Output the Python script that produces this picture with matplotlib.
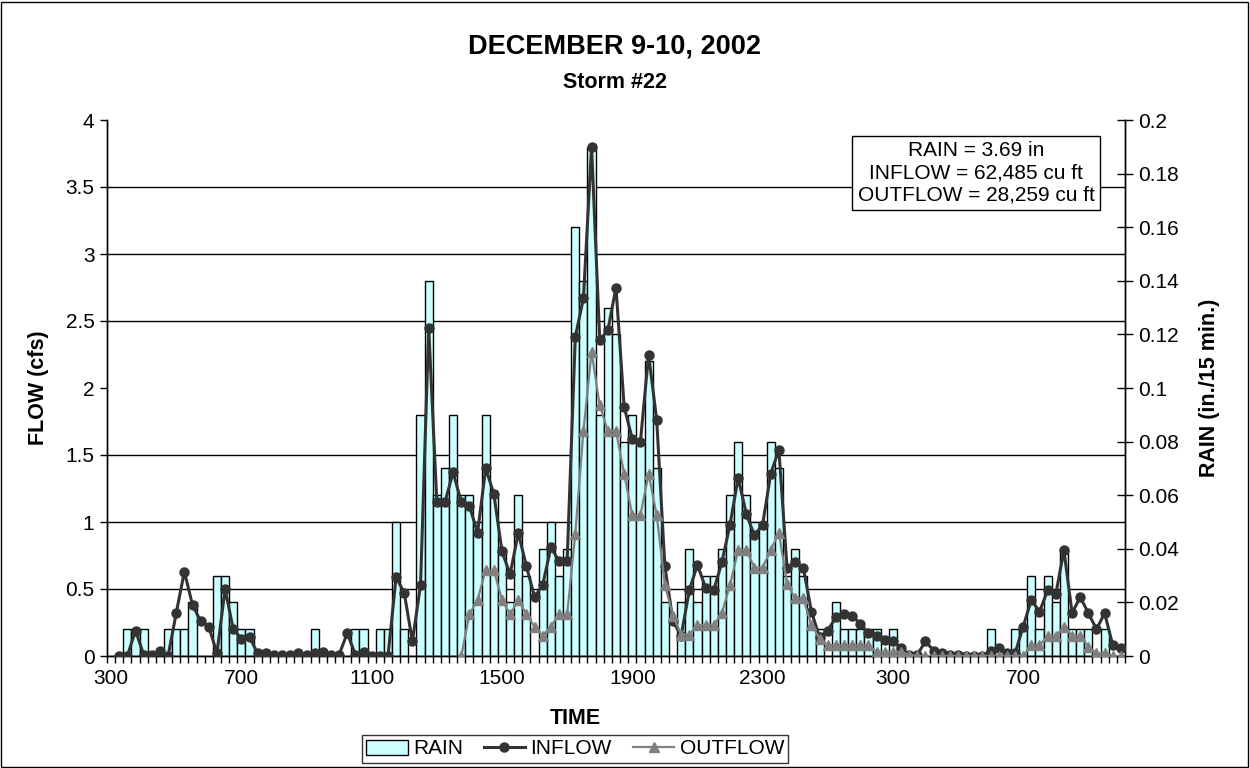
import numpy as np
import matplotlib
matplotlib.use("Agg")
import matplotlib.pyplot as plt
from matplotlib.ticker import MultipleLocator, FixedLocator, FuncFormatter
from matplotlib.patches import Rectangle
from matplotlib.lines import Line2D

plt.rcParams['font.family'] = ['Liberation Sans', 'DejaVu Sans']

nan = np.nan

# 15-minute categories, 3:00 Dec 9 through ~10:00 Dec 10
tick_labels = ["300", "700", "1100", "1500", "1900", "2300", "300", "700"]
tick_every = 16

rain = [0, 0, 0.01, 0.01, 0.01, 0, 0, 0.01, 0.01, 0.01,
        0.02, 0, 0, 0.03, 0.03, 0.02, 0.01, 0.01, 0, 0,
        0, 0, 0, 0, 0, 0.01, 0, 0, 0, 0,
        0.01, 0.01, 0, 0.01, 0.01, 0.05, 0.01, 0, 0.09, 0.14,
        0.06, 0.07, 0.09, 0.06, 0.06, 0.05, 0.09, 0.06, 0.04, 0.02,
        0.06, 0.03, 0, 0.04, 0.05, 0.03, 0.04, 0.16, 0.14, 0.19,
        0.09, 0.13, 0.12, 0.08, 0.09, 0.08, 0.11, 0.07, 0.02, 0,
        0.02, 0.04, 0.02, 0.03, 0.03, 0.04, 0.06, 0.08, 0.06, 0.05,
        0.05, 0.08, 0.07, 0.03, 0.04, 0.03, 0.01, 0.01, 0, 0.02,
        0.01, 0.01, 0.01, 0.01, 0.01, 0, 0.01, 0, 0, 0,
        0, 0, 0, 0, 0, 0, 0, 0, 0.01, 0,
        0, 0.01, 0.01, 0.03, 0.01, 0.03, 0.02, 0.04, 0.01, 0.01,
        0.01, 0, 0.01, 0, 0]

inflow = [nan, 0.0, 0.0, 0.19, 0.01, 0.01, 0.04, 0.0, 0.32, 0.63,
          0.38, 0.26, 0.22, 0.02, 0.50, 0.20, 0.13, 0.14, 0.02, 0.02,
          0.01, 0.01, 0.01, 0.02, 0.01, 0.02, 0.03, 0.01, 0.01, 0.17,
          0.01, 0.03, 0.0, 0.0, 0.0, 0.59, 0.47, 0.11, 0.53, 2.45,
          1.15, 1.15, 1.37, 1.15, 1.12, 0.92, 1.40, 1.21, 0.78, 0.61,
          0.92, 0.67, 0.44, 0.53, 0.81, 0.71, 0.71, 2.38, 2.67, 3.80,
          2.36, 2.43, 2.75, 1.86, 1.62, 1.60, 2.25, 1.76, 0.67, 0.26,
          0.15, 0.49, 0.68, 0.51, 0.49, 0.70, 0.98, 1.33, 1.06, 0.90,
          0.98, 1.36, 1.54, 0.66, 0.70, 0.66, 0.33, 0.14, 0.19, 0.29,
          0.31, 0.30, 0.24, 0.17, 0.15, 0.12, 0.11, 0.06, 0.01, 0.01,
          0.11, 0.04, 0.02, 0.01, 0.01, 0.0, 0.0, 0.0, 0.04, 0.06,
          0.02, 0.02, 0.22, 0.42, 0.33, 0.49, 0.46, 0.79, 0.32, 0.44,
          0.32, 0.20, 0.32, 0.08, 0.06]

outflow = [nan] * 43 + [
          0.0, 0.31, 0.42, 0.64, 0.64, 0.42, 0.31,
          0.42, 0.31, 0.22, 0.15, 0.22, 0.31, 0.31, 0.91, 1.68, 2.27,
          1.87, 1.68, 1.68, 1.36, 1.05, 1.05, 1.36, 1.05, 0.53, 0.30,
          0.16, 0.16, 0.23, 0.23, 0.23, 0.32, 0.53, 0.79, 0.79, 0.66,
          0.66, 0.79, 0.92, 0.54, 0.43, 0.43, 0.23, 0.13, 0.08, 0.08,
          0.08, 0.08, 0.08, 0.08, 0.03, 0.03, 0.03, 0.03, 0.01, 0.0,
          0.0, 0.0, 0.0, 0.0, 0.0, 0.0, 0.0, 0.0, 0.0, 0.0,
          0.0, 0.0, 0.0, 0.08, 0.08, 0.15, 0.15, 0.22, 0.15, 0.15,
          0.07, 0.02, 0.02, 0.0, 0.0]

summary = ["RAIN = 3.69 in", "INFLOW = 62,485 cu ft", "OUTFLOW = 28,259 cu ft"]

n = len(rain)
x = np.arange(n)

W, H = 1250, 768
fig = plt.figure(figsize=(W / 100, H / 100), dpi=100)
fig.patch.set_facecolor("white")

left, right, top, bottom = 107, 1125, 120, 656
ax = fig.add_axes([left / W, 1 - bottom / H, (right - left) / W, (bottom - top) / H])
ax2 = ax.twinx()

# rain bars on secondary axis (drawn underneath)
ax2.bar(x, rain, width=1.0, color="#CCFFFF", edgecolor="black", linewidth=1.0, zorder=2)
ax2.set_ylim(0, 0.2)
ax2.yaxis.set_major_locator(MultipleLocator(0.02))
ax2.yaxis.set_major_formatter(FuncFormatter(lambda v, p: "0" if abs(v) < 1e-9 else f"{v:.2f}".rstrip("0")))
ax2.yaxis.set_minor_locator(MultipleLocator(0.025))
ax2.grid(which="minor", axis="y", color="black", linewidth=1.0)
ax2.set_axisbelow(True)
ax2.tick_params(axis="y", which="major", direction="inout", length=11, width=1.0,
                labelsize=15, pad=4)
ax2.tick_params(axis="y", which="minor", length=0)
ax2.set_ylabel("RAIN (in./15 min.)", fontsize=15.5, fontweight="bold", labelpad=14)

# flow lines on primary axis (drawn on top)
ax.set_zorder(ax2.get_zorder() + 1)
ax.patch.set_visible(False)
ax.plot(x, inflow, color="#333333", linewidth=2.2, marker="o", markersize=6.5,
        markerfacecolor="#333333", markeredgecolor="#333333", zorder=3)
ax.plot(x, outflow, color="#808080", linewidth=1.6, marker="^", markersize=6.5,
        markerfacecolor="#808080", markeredgecolor="#808080", zorder=4)
ax.set_ylim(0, 4)
ax.yaxis.set_major_locator(MultipleLocator(0.5))
ax.yaxis.set_major_formatter(FuncFormatter(lambda v, p: f"{v:g}"))
ax.tick_params(axis="y", direction="out", length=5, width=1.0, labelsize=15, pad=4)
ax.set_ylabel("FLOW (cfs)", fontsize=15.5, fontweight="bold", labelpad=12)

ax.set_xlim(-0.5, n - 0.5)
ax.xaxis.set_major_locator(FixedLocator(np.arange(len(tick_labels)) * tick_every))
ax.set_xticklabels(tick_labels)
ax.xaxis.set_minor_locator(FixedLocator(np.arange(n + 1) - 0.5))
ax.tick_params(axis="x", which="major", length=0, labelsize=15, pad=9)
ax.tick_params(axis="x", which="minor", direction="out", length=5, width=1.0)

for a in (ax, ax2):
    a.spines["top"].set_visible(False)
    for s in ("left", "right", "bottom"):
        a.spines[s].set_linewidth(1.0)
        a.spines[s].set_color("black")

# x label placed like the original
fig.text(575 / W, 1 - 718 / H, "TIME", ha="center", va="center", fontsize=15.5, fontweight="bold")

# titles
fig.text(615 / W, 1 - 47 / H, "DECEMBER 9-10, 2002", ha="center", va="center",
         fontsize=19.5, fontweight="bold")
fig.text(615 / W, 1 - 82 / H, "Storm #22", ha="center", va="center",
         fontsize=15.5, fontweight="bold")

# summary box
ax.text(976 / W, 1 - 173 / H, "\n".join(summary), transform=fig.transFigure,
        ha="center", va="center", fontsize=15, linespacing=1.2,
        bbox=dict(boxstyle="square,pad=0.25", facecolor="white", edgecolor="black", linewidth=1.0),
        zorder=10)

# legend
handles = [Rectangle((0, 0), 1, 1, facecolor="#CCFFFF", edgecolor="black", linewidth=1.0),
           Line2D([], [], color="#333333", linewidth=2.2, marker="o", markersize=6.5),
           Line2D([], [], color="#808080", linewidth=1.6, marker="^", markersize=6.5)]
leg = fig.legend(handles, ["RAIN", "INFLOW", "OUTFLOW"], loc="center",
                 bbox_to_anchor=(575 / W, 1 - 749 / H), ncol=3, frameon=True,
                 fontsize=15, fancybox=False, edgecolor="black", handlelength=2.0,
                 handletextpad=0.25, columnspacing=1.0, borderpad=0.2)
leg.get_frame().set_linewidth(1.0)

# chart border
fig.patches.append(Rectangle((1 / W, 1 / H), 1 - 3 / W, 1 - 3 / H, transform=fig.transFigure,
                             fill=False, edgecolor="black", linewidth=1.0))

fig.savefig("out.png", dpi=100, facecolor="white")
